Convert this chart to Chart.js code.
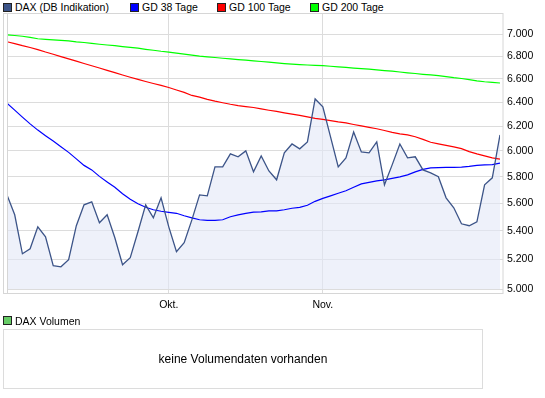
<!DOCTYPE html>
<html>
<head>
<meta charset="utf-8">
<script src="https://cdn.jsdelivr.net/npm/chart.js@4"></script>
<style>
  body { margin: 0; background: #fff; font-family: 'Liberation Sans', Arial, sans-serif; color: #000; }
  .lg { position: absolute; font-size: 10.5px; line-height: 12px; white-space: nowrap; }
  .box { position: absolute; width: 9px; height: 9px; box-sizing: border-box; border: 1px solid #222; }
  #wrap { position: absolute; left: 0; top: 0; width: 545px; height: 320px; }
  #volPanel { position: absolute; left: 3px; top: 329px; width: 480px; height: 60px; box-sizing: border-box;
    border: 1px solid #dcdcdc; font-size: 12px; text-align: center; line-height: 59px; }
</style>
</head>
<body>
<div id="legend"></div>
<div id="wrap"><canvas id="chart"></canvas></div>
<div class="box" style="left:3px;top:316px;background:#66cc66"></div>
<div class="lg" style="left:15px;top:315px">DAX Volumen</div>
<div id="volPanel">keine Volumendaten vorhanden</div>

<script>
// values, one per trading day
const dax = [5662, 5515, 5238, 5273, 5428, 5357, 5156, 5149, 5197, 5436,
  5588, 5610, 5457, 5515, 5350, 5163, 5211, 5393, 5588, 5493,
  5640, 5428, 5252, 5315, 5478, 5662, 5655, 5876, 5876, 5977,
  5954, 6001, 5837, 5961, 5844, 5776, 5985, 6056, 6017, 6072,
  6427, 6360, 6113, 5876, 5946, 6153, 5993, 5985, 6072, 5738,
  5891, 6056, 5946, 5954, 5852, 5829, 5799, 5640, 5566, 5450,
  5436, 5464, 5738, 5791, 6129];
const gd38 = [6391, 6333, 6275, 6219, 6168, 6123, 6079, 6034, 5989, 5938,
  5887, 5852, 5802, 5760, 5719, 5670, 5629, 5596, 5570, 5552,
  5541, 5533, 5526, 5508, 5493, 5479, 5475, 5475, 5479, 5501,
  5515, 5526, 5535, 5537, 5544, 5544, 5552, 5563, 5570, 5585,
  5614, 5636, 5655, 5674, 5693, 5719, 5745, 5756, 5768, 5776,
  5787, 5799, 5814, 5837, 5856, 5868, 5870, 5872, 5872, 5874,
  5879, 5887, 5891, 5893, 5904];
const gd100 = [6932, 6915, 6896, 6879, 6860, 6838, 6818, 6797, 6776, 6756,
  6735, 6715, 6695, 6674, 6654, 6634, 6614, 6595, 6577, 6560,
  6543, 6525, 6504, 6483, 6457, 6442, 6423, 6408, 6395, 6382,
  6371, 6363, 6355, 6343, 6332, 6322, 6310, 6299, 6289, 6276,
  6264, 6256, 6246, 6235, 6227, 6214, 6202, 6190, 6179, 6165,
  6149, 6137, 6129, 6114, 6093, 6070, 6057, 6045, 6033, 6019,
  5995, 5977, 5961, 5946, 5936];
const gd200 = [6994, 6989, 6982, 6971, 6959, 6954, 6949, 6945, 6940, 6931,
  6925, 6917, 6909, 6902, 6896, 6888, 6881, 6873, 6863, 6854,
  6845, 6838, 6829, 6820, 6811, 6802, 6795, 6789, 6782, 6776,
  6770, 6765, 6759, 6753, 6747, 6741, 6735, 6730, 6726, 6722,
  6719, 6716, 6711, 6706, 6701, 6695, 6690, 6685, 6679, 6673,
  6667, 6660, 6653, 6647, 6640, 6634, 6628, 6619, 6610, 6603,
  6593, 6583, 6575, 6569, 6564];

const seriesNames = ['DAX (DB Indikation)', 'GD 38 Tage', 'GD 100 Tage', 'GD 200 Tage'];
const seriesColors = ['#3c5488', '#0000ff', '#ff0000', '#00ff00'];

// month ticks (index of first trading day)
const monthTicks = [21, 41];
const monthLabels = ['Okt.', 'Nov.'];

const yTicks = [5000, 5200, 5400, 5600, 5800, 6000, 6200, 6400, 6600, 6800, 7000];
const yMin = 5000;
const yMax = 7200;

// html legend
const legendLeft = [3, 130, 217, 310];
let legendHtml = '';
seriesNames.forEach(function (name, i) {
  legendHtml += `<div class="box" style="left:${legendLeft[i]}px;top:3px;background:${seriesColors[i]}"></div>
    <div class="lg" style="left:${legendLeft[i] + 12}px;top:1px">${name}</div>`;
});
document.getElementById('legend').innerHTML = legendHtml;

const toPoints = (arr) => arr.map((v, i) => ({ x: i, y: v }));
const fmt = (v) => String(v).replace(/\B(?=(\d{3})+$)/, '.');

// frame around the plot
const framePlugin = {
  id: 'frame',
  afterDraw(chart) {
    const ctx = chart.ctx;
    const a = chart.chartArea;
    ctx.save();
    ctx.strokeStyle = '#d6d6d6';
    ctx.lineWidth = 1;
    ctx.strokeRect(3.5, a.top + 0.5, a.right - 0.5, a.bottom - a.top + 4);
    ctx.beginPath();
    ctx.moveTo(a.left + 0.5, a.top);
    ctx.lineTo(a.left + 0.5, a.bottom + 4);
    ctx.stroke();
    ctx.restore();
  },
};

Chart.defaults.font.family = "'Liberation Sans', Arial, sans-serif";
Chart.defaults.font.size = 10.5;
Chart.defaults.color = '#000';

const config = {
  type: 'line',
  data: {
    datasets: [
      {
        label: seriesNames[0],
        data: toPoints(dax),
        borderColor: seriesColors[0],
        backgroundColor: 'rgba(226, 232, 246, 0.6)',
        borderWidth: 1.3,
        fill: 'start',
      },
      { label: seriesNames[1], data: toPoints(gd38), borderColor: seriesColors[1], borderWidth: 1.2, fill: false },
      { label: seriesNames[2], data: toPoints(gd100), borderColor: seriesColors[2], borderWidth: 1.2, fill: false },
      { label: seriesNames[3], data: toPoints(gd200), borderColor: seriesColors[3], borderWidth: 1.2, fill: false },
    ],
  },
  options: {
    responsive: true,
    maintainAspectRatio: false,
    animation: false,
    layout: { padding: { left: 7, top: 13, right: 0, bottom: 0 } },
    elements: { point: { radius: 0 }, line: { tension: 0 } },
    plugins: {
      legend: { display: false },
      tooltip: { enabled: false },
      filler: { drawTime: 'beforeDatasetsDraw' },
    },
    scales: {
      x: {
        type: 'linear',
        min: 0,
        max: dax.length - 1,
        afterBuildTicks: (s) => { s.ticks = monthTicks.map((v) => ({ value: v })); },
        afterFit: (s) => { s.height = 31; },
        ticks: {
          padding: 6,
          maxRotation: 0,
          callback: (v) => monthLabels[monthTicks.indexOf(v)],
        },
        grid: { color: '#dcdcdc', tickLength: 4 },
        border: { display: false },
      },
      y: {
        type: 'logarithmic',
        position: 'right',
        min: yMin,
        max: yMax,
        afterBuildTicks: (s) => { s.ticks = yTicks.map((v) => ({ value: v })); },
        afterFit: (s) => { s.width = 45; },
        ticks: { padding: 4, callback: (v) => fmt(v) },
        grid: { color: '#dcdcdc', tickLength: 3 },
        border: { display: false },
      },
    },
  },
  plugins: [framePlugin],
};

// render chart
const chart = new Chart(document.getElementById('chart'), config);
</script>
</body>
</html>
